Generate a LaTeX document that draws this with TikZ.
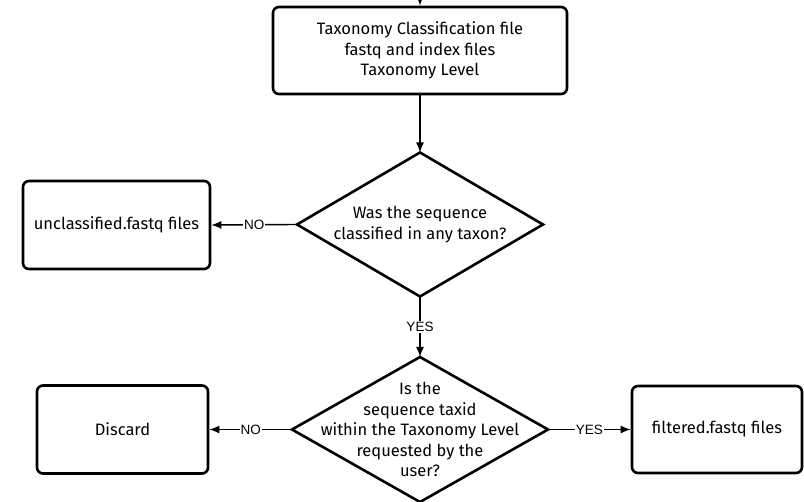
\documentclass[tikz,border=0pt]{standalone}
\usepackage{fontspec}
\setmainfont{Fira Sans}
\newfontfamily\lblfont{Liberation Sans}
\usetikzlibrary{shapes.geometric,arrows.meta}
\tikzset{
  box/.style={draw, line width=2.6pt, rounded corners=6pt, align=center, inner sep=0pt,
    font=\fontsize{16.5}{20.5}\selectfont},
  dia/.style={draw, diamond, line width=2.6pt, inner sep=0pt, outer sep=0pt},
  dtext/.style={align=center, font=\fontsize{16.5}{20.5}\selectfont, inner sep=0pt},
  conn/.style={line width=1.4pt, -{Latex[length=10pt,width=8pt]}},
  lbl/.style={fill=white, inner sep=1pt, font=\lblfont\fontsize{13.5}{15}\selectfont}
}
\begin{document}
\begin{tikzpicture}[x=1pt,y=-1pt]
\useasboundingbox (0,0) rectangle (804,502);
% top box
\node[box, minimum width=294pt, minimum height=87pt] (top) at (420,50.5)
  {Taxonomy Classification file\\fastq and index files\\Taxonomy Level};
\coordinate (in) at (420,-12);
\draw[conn] (in) -- (top.north);
% diamond 1
\node[dia, minimum width=246pt, minimum height=144pt] (d1) at (420,224.5) {};
\node[dtext] (t1) at (d1.center) {Was the sequence\\classified in any taxon?};
\draw[conn] (top.south) -- (d1.north);
% unclassified
\node[box, minimum width=187pt, minimum height=88pt] (unc) at (116.5,225) {unclassified.fastq files};
\draw[conn] (d1.west) -- node[lbl] {NO} (unc.east);
% diamond 2
\node[dia, minimum width=256pt, minimum height=145pt] (d2) at (420,429.5) {};
\node[dtext] (t2) at (d2.center) {Is the\\sequence taxid\\within the Taxonomy Level\\requested by the\\user?};
\draw[conn] (d1.south) -- node[lbl] {YES} (d2.north);
% discard
\node[box, minimum width=171pt, minimum height=88pt] (dis) at (122.5,429.5) {Discard};
\draw[conn] (d2.west) -- node[lbl] {NO} (dis.east);
% filtered
\node[box, minimum width=170pt, minimum height=87pt] (fil) at (717,429.5) {filtered.fastq files};
\draw[conn] (d2.east) -- node[lbl] {YES} (fil.west);
\end{tikzpicture}
\end{document}
